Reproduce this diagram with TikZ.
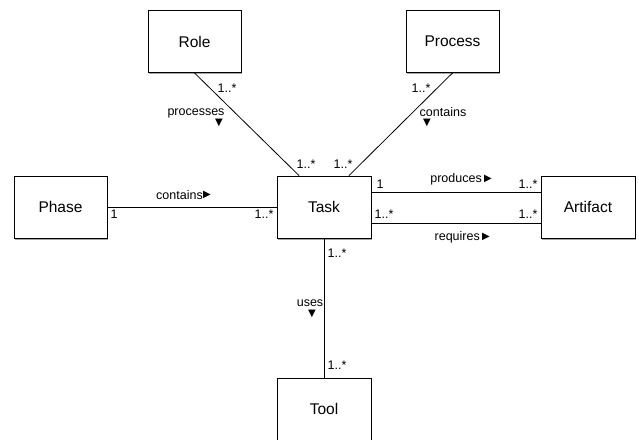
\documentclass[tikz,border=0pt]{standalone}
\usepackage{fontspec}
\setmainfont{Liberation Sans}
\newfontfamily\symfont{DejaVu Sans}
\usetikzlibrary{shadows}
\tikzset{
  cls/.style={draw=black, line width=0.9pt, fill=white, minimum width=93pt, minimum height=62pt,
    inner sep=0pt, font=\fontsize{15.5}{18}\selectfont,
    drop shadow={shadow xshift=1.2pt, shadow yshift=-1.6pt, opacity=0.35, fill=black}},
  conn/.style={draw=black, line width=0.8pt},
  lbl/.style={inner sep=0pt, font=\fontsize{12.5}{14}\selectfont},
  tri/.style={inner sep=0pt, font=\symfont\fontsize{10}{11}\selectfont}
}
\begin{document}
\begin{tikzpicture}[x=1pt,y=-1pt]
\useasboundingbox[fill=white] (0,0) rectangle (639,439);
\begin{scope}
\clip (0,0) rectangle (639,439);
\node[cls] (role) at (194.5,41.5) {Role};
\node[cls] (process) at (452.5,41.5) {Process};
\node[cls] (phase) at (60.5,207) {Phase};
\node[cls, minimum width=94pt] (task) at (324,207) {Task};
\node[cls, minimum width=94pt] (artifact) at (588,207) {Artifact};
\node[cls, minimum width=94pt] (tool) at (324,409) {Tool};
\end{scope}
\coordinate (tl) at ([xshift=-25pt]task.north);
\coordinate (tr) at ([xshift=25pt]task.north);
\draw[conn] (role.south) -- (tl);
\draw[conn] (process.south) -- (tr);
\draw[conn] (phase.east) -- (task.west);
\draw[conn] ([yshift=15pt]task.east) -- ([yshift=15pt]artifact.west);
\draw[conn] ([yshift=-16pt]task.east) -- ([yshift=-16pt]artifact.west);
\draw[conn] (task.south) -- (tool.north);
% Role -- Task
\node[lbl] (m1) at (227,88) {1..*};
\node[lbl] (l1) at (196,113) {processes};
\node[tri] (a1) at (219,123) {▼};
\node[lbl] (m2) at (306,164) {1..*};
% Process -- Task
\node[lbl] (m3) at (421,88) {1..*};
\node[lbl] (l2) at (443,112) {contains};
\node[tri] (a2) at (427,123) {▼};
\node[lbl] (m4) at (343,164) {1..*};
% Phase -- Task
\node[lbl, anchor=east] (l3) at (203,195) {contains};
\node[tri, anchor=west] (a3) at (203,195) {▶};
\node[lbl] (m5) at (114,214) {1};
\node[lbl] (m6) at (264,214) {1..*};
% Task -- Artifact
\node[lbl, anchor=east] (l4) at (482,179) {produces};
\node[tri] (a4) at (488,179) {▶};
\node[lbl] (m7) at (380,184) {1};
\node[lbl] (m8) at (528,184) {1..*};
\node[lbl] (m9) at (384,214) {1..*};
\node[lbl] (m10) at (528,214) {1..*};
\node[lbl, anchor=east] (l5) at (480,237) {requires};
\node[tri] (a5) at (486,237) {▶};
% Task -- Tool
\node[lbl] (m11) at (337,253) {1..*};
\node[lbl] (l6) at (310,303) {uses};
\node[tri] (a6) at (312,314) {▼};
\node[lbl] (m12) at (337,365) {1..*};
\end{tikzpicture}
\end{document}
